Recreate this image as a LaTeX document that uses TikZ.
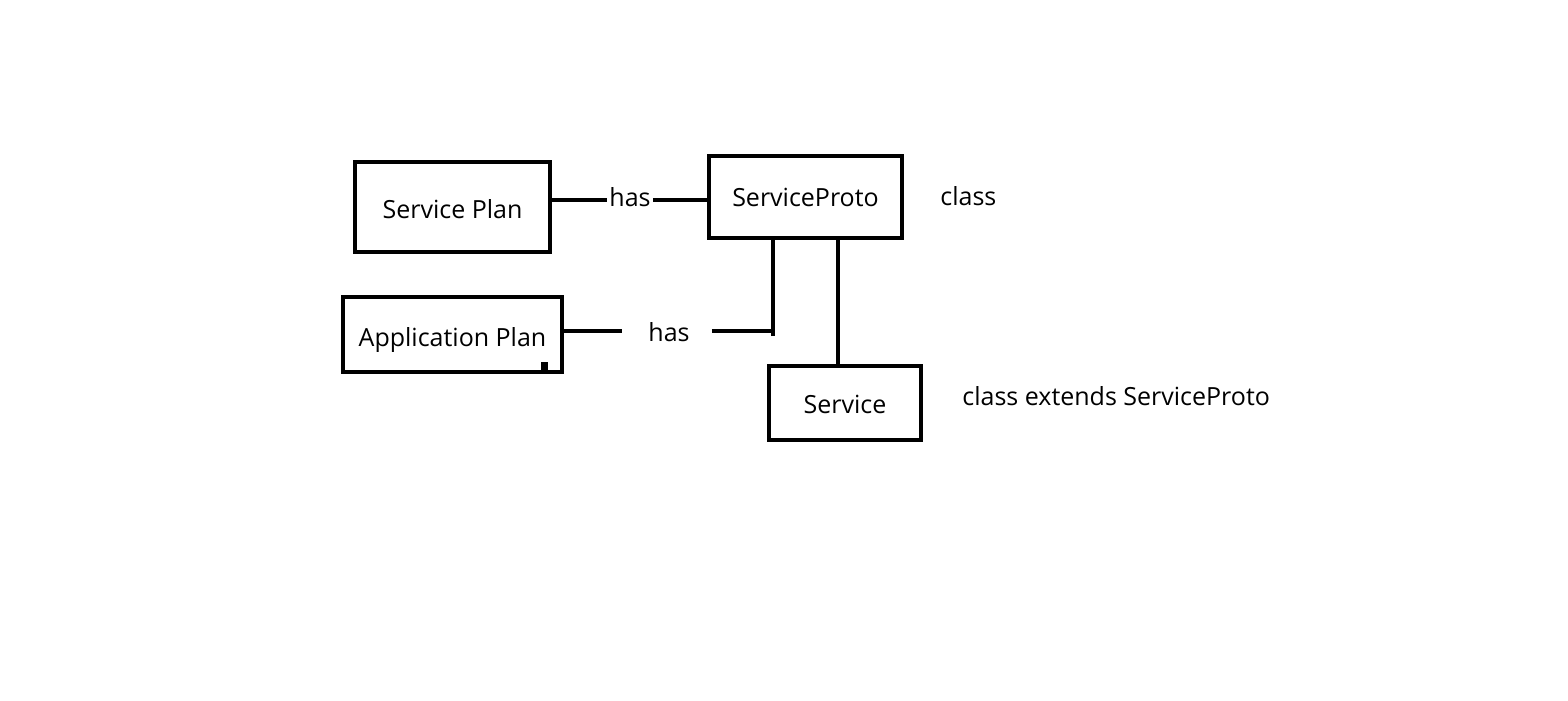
\documentclass[tikz,border=0pt]{standalone}
\usepackage{fontspec}
\setmainfont{Open Sans}
\usetikzlibrary{positioning, calc}

\newcommand{\lowerby}[2]{\raisebox{-#1}[\height][\depth]{#2}}

\begin{document}
\begin{tikzpicture}[
    x=0.5pt, y=-0.5pt,
    font=\fontsize{12.5}{14}\selectfont,
    box/.style={draw, line width=2pt, inner sep=0pt, align=center},
    lbl/.style={inner sep=1pt},
    link/.style={line width=2pt},
]
\useasboundingbox (0,0) rectangle (1568,701);

% ── classes ──────────────────────────────────────────────────────────────────
\node[box, minimum width=97.5pt, minimum height=45pt] (sp) at (452.5,207) {\lowerby{1pt}{Service Plan}};
\node[box, minimum width=96.5pt, minimum height=41pt] (proto) at (805.5,197) {ServiceProto};
\node[box, minimum width=109.5pt, minimum height=37.5pt] (ap) at (452.5,334.5) {\lowerby{3pt}{Application Plan}};
\node[box, minimum width=76pt, minimum height=37pt] (svc) at (845,403) {\lowerby{0.5pt}{Service}};

% ── side notes ───────────────────────────────────────────────────────────────
\node[lbl, anchor=west] (protonote) at (938,196) {class};
\node[lbl, anchor=west] (svcnote) at (960,396) {class extends ServiceProto};

% ── "has" labels ─────────────────────────────────────────────────────────────
\node[lbl] (has1) at (630,197) {has};
\node[lbl] (has2) at (669,332) {has};

% ── edges ────────────────────────────────────────────────────────────────────
\coordinate (j1) at (773,331);
\draw[link] (sp.east |- 0,200) -- (has1.west |- 0,200);
\draw[link] (has1.east |- 0,200) -- (proto.west |- 0,200);
\draw[link] (ap.east |- 0,331) -- ([xshift=-12pt]has2.west |- 0,331);
\draw[link] ([xshift=10pt]has2.east |- 0,331) -- (j1);
\draw[link] (j1 |- 0,336) -- (j1 |- proto.south);
\draw[link] (proto.south -| 838,0) -- (svc.north -| 838,0);

% stray mark inside the application plan box
\fill (541,362) rectangle (548,370);

\end{tikzpicture}
\end{document}
